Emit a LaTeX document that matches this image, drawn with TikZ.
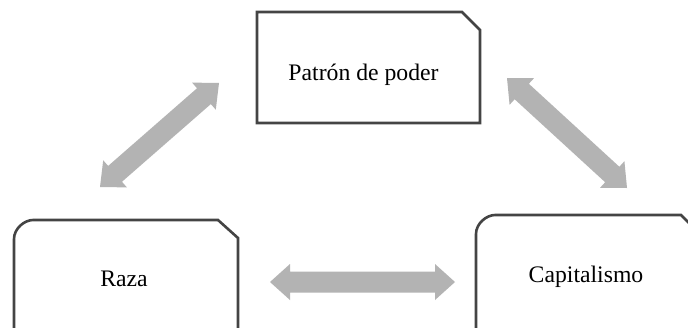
\documentclass[tikz,border=0pt]{standalone}
\usepackage{fontspec}
\setmainfont{Liberation Serif}
\usetikzlibrary{calc}
\definecolor{boxline}{RGB}{68,68,68}
\definecolor{arrowgray}{RGB}{179,179,179}
\tikzset{
  boxshape/.style={draw=boxline, line width=2.6pt, line join=miter},
  label/.style={anchor=base, inner sep=0pt, font=\fontsize{23.7}{28}\selectfont},
}
\newcommand\fatarrow[2]{%
  \coordinate (h1) at ($(#1)!20pt!(#2)$);
  \coordinate (h2) at ($(#2)!20pt!(#1)$);
  \fill[arrowgray] (#1) -- ($(h1)!18pt!90:(#2)$) -- ($(h1)!10.5pt!90:(#2)$)
    -- ($(h2)!10.5pt!-90:(#1)$) -- ($(h2)!18pt!-90:(#1)$) -- (#2)
    -- ($(h2)!18pt!90:(#1)$) -- ($(h2)!10.5pt!90:(#1)$)
    -- ($(h1)!10.5pt!-90:(#2)$) -- ($(h1)!18pt!-90:(#2)$) -- cycle;
}
\begin{document}
\begin{tikzpicture}[x=1pt,y=-1pt]
\useasboundingbox (0,0) rectangle (688,327);
\clip (0,0) rectangle (688,327);
\fill[white] (0,0) rectangle (688,327);
% Patrón de poder box
\draw[boxshape] (257,12) -- (462,12) -- (480,30) -- (480,123) -- (257,123) -- cycle;
\node[label] (pp) at (363.5,80) {Patrón de poder};
% Raza box
\draw[boxshape] (14,345) -- (14,239) .. controls (14,228.5) and (24.5,220) .. (33,220)
  -- (218,220) -- (238,238) -- (238,345);
\node[label] (raza) at (124,286) {Raza};
% Capitalismo box
\draw[boxshape] (476,345) -- (476,234) .. controls (476,223.5) and (486.5,215) .. (495,215)
  -- (681,215) -- (699,233) -- (699,345);
\node[label] (cap) at (586,282) {Capitalismo};
% arrow end points
\coordinate (a1) at (100,187);
\coordinate (a2) at (219,83);
\coordinate (b1) at (507,78);
\coordinate (b2) at (627,188);
\coordinate (c1) at (270,282);
\coordinate (c2) at (455,282);
\fatarrow{a1}{a2}
\fatarrow{b1}{b2}
\fatarrow{c1}{c2}
\end{tikzpicture}
\end{document}
